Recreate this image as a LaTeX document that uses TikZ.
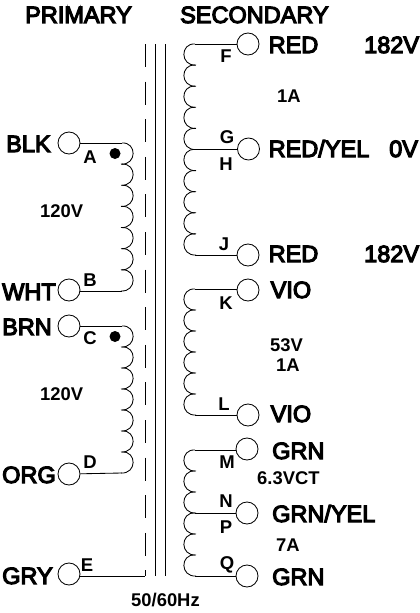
\documentclass[tikz,border=0pt]{standalone}
\usepackage{fontspec}
\setmainfont{Liberation Sans}[FakeBold=5]
\newfontfamily\lblfont{Liberation Sans Bold}
\tikzset{
 wire/.style={line width=0.85pt,black},
 term/.style={circle,draw,line width=0.85pt,minimum size=22pt,inner sep=0pt,fill=white},
 big/.style={anchor=base west,inner sep=0pt,font=\fontsize{23.5}{24}\selectfont},
 small/.style={anchor=base west,inner sep=0pt,font=\lblfont\fontsize{18.4}{18}\selectfont},
 pin/.style={anchor=base,inner sep=0pt,font=\lblfont\fontsize{18.5}{18}\selectfont},
}
\newcommand{\coilR}[4]{%
 \foreach \k in {1,...,#3}{%
  \draw[wire] (#1,{#2+(\k-1)*#4}) .. controls (#1+15,{#2+(\k-1)*#4-1}) and (#1+15,{#2+\k*#4+1}) .. (#1-1,{#2+\k*#4});
 }}
\newcommand{\coilL}[4]{%
 \foreach \k in {1,...,#3}{%
  \draw[wire] (#1,{#2+(\k-1)*#4}) .. controls (#1-15,{#2+(\k-1)*#4-1}) and (#1-15,{#2+\k*#4+1}) .. (#1+1,{#2+\k*#4});
 }}
\begin{document}
\begin{tikzpicture}[x=1pt,y=-1pt]
\useasboundingbox (0,0) rectangle (420,613);
\node[big] (tprim) at (25,23) {PRIMARY};
\node[big] (tsec) at (180,23) {SECONDARY};
\coordinate (c1t) at (145,44); \coordinate (c1b) at (145,576);
\coordinate (c2t) at (155,44); \coordinate (c2b) at (155,576);
\coordinate (c3t) at (165,44); \coordinate (c3b) at (165,576);
\draw[wire,dash pattern=on 23pt off 14.6pt] (c1t) -- (c1b);
\draw[wire] (c2t) -- (c2b);
\draw[wire] (c3t) -- (c3b);
\node[term] (A) at (69,143) {};
\node[term] (B) at (69,290) {};
\node[term] (C) at (69,326) {};
\node[term] (D) at (69,474) {};
\node[term] (E) at (69,574) {};
\coordinate (Ac) at (122,143); \coordinate (Bc) at (122,291);
\coordinate (Cc) at (122,326); \coordinate (Dc) at (122,473);
\coilR{122}{143}{7}{21.14}
\coilR{122}{326}{7}{21}
\draw[wire] (A) -- (Ac);
\draw[wire] (B.east |- Bc) -- (Bc);
\draw[wire] (C) -- (Cc);
\draw[wire] (D) -- (Dc);
\draw[wire] (E.east |- c1b) -- (c1b);
\fill (115,153.5) circle (5.5pt);
\fill (115,336.5) circle (5.5pt);
\node[big] (blk) at (6,152) {BLK};
\node[big] (wht) at (2,300) {WHT};
\node[big] (brn) at (2,335) {BRN};
\node[big] (org) at (2,483) {ORG};
\node[big] (gry) at (2,584) {GRY};
\node[pin] at (90,163) {A};
\node[pin] at (90,286) {B};
\node[pin] at (90,344) {C};
\node[pin] at (90,468) {D};
\node[pin] at (87,571) {E};
\node[small] at (40,217) {120V};
\node[small] at (40,400.5) {120V};
\node[small] at (131,606) {50/60Hz};
\node[term] (F) at (248,44) {};
\node[term] (G) at (248.5,149) {};
\node[term] (J) at (248,255) {};
\node[term] (K) at (248,290) {};
\node[term] (L) at (248,415) {};
\node[term] (M) at (247,449) {};
\node[term] (N) at (247,513) {};
\node[term] (Q) at (247,576) {};
\coordinate (Fc) at (195,44); \coordinate (Gc) at (195,149); \coordinate (Jc) at (195,255);
\coordinate (Kc) at (195,289); \coordinate (Lc) at (195,415);
\coordinate (Mc) at (195,450); \coordinate (Nc) at (195,513); \coordinate (Qc) at (195,576);
\coilL{195}{44}{10}{21.1}
\coilL{195}{289}{6}{21}
\coilL{195}{450}{6}{21}
\draw[wire] (F.west) -- (F.west -| Fc);
\draw[wire] (G) -- (Gc);
\draw[wire] (J) -- (Jc);
\draw[wire] (K.west |- Kc) -- (Kc);
\draw[wire] (L) -- (Lc);
\draw[wire] (M.west |- Mc) -- (Mc);
\draw[wire] (N) -- (Nc);
\draw[wire] (Q) -- (Qc);
\node[pin] at (226,62) {F};
\node[pin] at (227,143) {G};
\node[pin] at (226,170) {H};
\node[pin] at (224,250) {J};
\node[pin] at (226,309) {K};
\node[pin] at (224,410) {L};
\node[pin] at (227,468) {M};
\node[pin] at (226,507) {N};
\node[pin] at (226,533) {P};
\node[pin] at (227,569) {Q};
\node[big] at (268.5,53) {RED};
\node[big] at (268.5,157) {RED/YEL};
\node[big] at (268.5,262) {RED};
\node[big] at (270.5,298) {VIO};
\node[big] at (270.5,422) {VIO};
\node[big] at (272,459) {GRN};
\node[big] at (272,522) {GRN/YEL};
\node[big] at (272,585) {GRN};
\node[big] at (364,53) {182V};
\node[big] at (389,157) {0V};
\node[big] at (364,262) {182V};
\node[small] at (277,102) {1A};
\node[small] at (270,351) {53V};
\node[small] at (276,371) {1A};
\node[small] at (257,484) {6.3VCT};
\node[small] at (276,551) {7A};
\end{tikzpicture}
\end{document}
